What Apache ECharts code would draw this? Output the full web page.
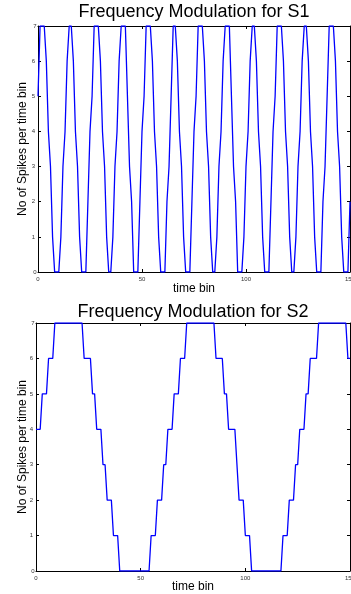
<!DOCTYPE html>
<html>
<head>
<meta charset="utf-8">
<script src="https://cdn.jsdelivr.net/npm/echarts@6/dist/echarts.min.js"></script>
<style>
  html, body { margin: 0; padding: 0; background: #fff; }
  #chart { width: 351px; height: 594px; }
</style>
</head>
<body>
<div id="chart"></div>
<script>
// ---- data ----
const titles = ['Frequency Modulation for S1', 'Frequency Modulation for S2'];
const xName = 'time bin';
const yName = 'No of Spikes per time bin';
const xTicks = [0, 50, 100, 150];
const yTicks = [0, 1, 2, 3, 4, 5, 6, 7];

// spikes per time bin, bins 0..150
const s1 = [
  5,7,7,7,6,4,3,1,0,0,
  0,1,3,4,6,7,7,6,4,3,
  1,0,0,0,2,4,5,7,7,7,
  6,4,3,1,0,0,1,3,4,6,
  7,7,7,5,3,2,0,0,0,2,
  4,5,7,7,7,6,4,3,1,0,
  0,0,2,3,5,7,7,6,4,3,
  1,0,0,0,2,4,5,7,7,7,
  6,4,3,1,0,0,1,3,4,6,
  7,7,7,5,3,2,0,0,0,1,
  3,4,6,7,7,6,4,3,1,0,
  0,0,2,4,5,7,7,7,6,4,
  3,1,0,0,1,3,4,6,7,7,
  6,4,3,1,0,0,0,2,3,5,
  7,7,7,6,4,3,1,0,0,0,
  2
];
const s2 = [
  4,4,4,5,5,5,6,6,6,7,
  7,7,7,7,7,7,7,7,7,7,
  7,7,7,6,6,6,6,5,5,4,
  4,4,3,3,2,2,2,1,1,1,
  0,0,0,0,0,0,0,0,0,0,
  0,0,0,0,0,1,1,1,2,2,
  2,3,3,4,4,4,5,5,5,6,
  6,6,7,7,7,7,7,7,7,7,
  7,7,7,7,7,7,6,6,6,6,
  5,5,4,4,4,4,3,2,2,2,
  1,1,1,0,0,0,0,0,0,0,
  0,0,0,0,0,0,0,0,1,1,
  1,2,2,2,3,3,4,4,4,5,
  5,6,6,6,6,7,7,7,7,7,
  7,7,7,7,7,7,7,7,7,6,
  6
];

// ---- layout ----
const FONT = 'Liberation Sans, Arial, Helvetica, sans-serif';
const panels = [
  { left: 38, top: 26, width: 312, height: 246, titleTop: 3, xGap: 11, yGap: 9.5, data: s1 },
  { left: 36, top: 323, width: 314, height: 248, titleTop: 303, xGap: 9.5, yGap: 7.5, data: s2 }
];

const grid = [], xAxis = [], yAxis = [], series = [], title = [];
const xMin = xTicks[0], xMax = xTicks[xTicks.length - 1], xInt = xTicks[1] - xTicks[0];
const yMin = yTicks[0], yMax = yTicks[yTicks.length - 1], yInt = yTicks[1] - yTicks[0];

panels.forEach((p, i) => {
  grid.push({ left: p.left, top: p.top, width: p.width, height: p.height,
              containLabel: false, outerBoundsMode: 'none' });
  title.push({
    text: titles[i], left: p.left + p.width / 2, top: p.titleTop, textAlign: 'center', padding: 0,
    textStyle: { fontFamily: FONT, fontSize: 18, fontWeight: 'normal', color: '#000' }
  });
  const axisLine = { show: true, onZero: false, lineStyle: { color: '#000', width: 1 } };
  const tick = { show: true, inside: true, length: 3, lineStyle: { color: '#000', width: 1 } };
  const label = { show: true, fontFamily: FONT, fontSize: 6, color: '#333', hideOverlap: false };
  // bottom x axis
  xAxis.push({
    type: 'value', gridIndex: i, position: 'bottom', min: xMin, max: xMax, interval: xInt,
    name: xName, nameLocation: 'middle', nameGap: p.xGap, nameMoveOverlap: false,
    nameTextStyle: { fontFamily: FONT, fontSize: 12, color: '#000' },
    axisLine, axisTick: tick,
    axisLabel: Object.assign({ margin: 4, alignMinLabel: 'center', alignMaxLabel: 'center' }, label),
    splitLine: { show: false }
  });
  // top x axis (box)
  xAxis.push({
    type: 'value', gridIndex: i, position: 'top', min: xMin, max: xMax, interval: xInt,
    axisLine, axisTick: tick, axisLabel: { show: false }, splitLine: { show: false }
  });
  // left y axis
  yAxis.push({
    type: 'value', gridIndex: i, position: 'left', min: yMin, max: yMax, interval: yInt,
    name: yName, nameLocation: 'middle', nameGap: p.yGap, nameMoveOverlap: false,
    nameTextStyle: { fontFamily: FONT, fontSize: 12, color: '#000' },
    axisLine, axisTick: tick,
    axisLabel: Object.assign({ margin: 3, alignMinLabel: 'center', alignMaxLabel: 'center' }, label),
    splitLine: { show: false }
  });
  // right y axis (box)
  yAxis.push({
    type: 'value', gridIndex: i, position: 'right', min: yMin, max: yMax, interval: yInt,
    axisLine, axisTick: tick, axisLabel: { show: false }, splitLine: { show: false }
  });
  series.push({
    type: 'line', xAxisIndex: i * 2, yAxisIndex: i * 2,
    data: p.data.map((v, k) => [k, v]),
    showSymbol: false, symbol: 'none', clip: true, animation: false,
    lineStyle: { color: '#0000ff', width: 1.3 }
  });
});

const chart = echarts.init(document.getElementById('chart'), null, { renderer: 'canvas' });
chart.setOption({
  animation: false,
  backgroundColor: '#fff',
  title, grid, xAxis, yAxis, series
});
</script>
</body>
</html>
